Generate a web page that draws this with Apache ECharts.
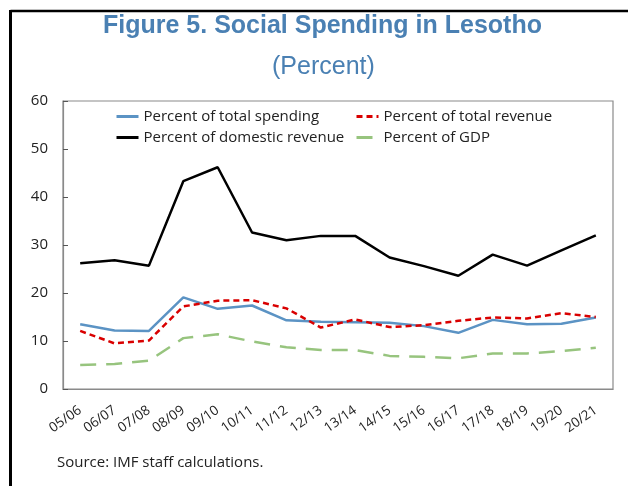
<!DOCTYPE html>
<html>
<head>
<meta charset="utf-8">
<script src="https://cdn.jsdelivr.net/npm/echarts@6/dist/echarts.min.js"></script>
<style>
html,body{margin:0;padding:0;background:#fff;}
#chart{width:628px;height:486px;}
</style>
</head>
<body>
<div id="chart"></div>
<script>
var categories = ['05/06','06/07','07/08','08/09','09/10','10/11','11/12','12/13','13/14','14/15','15/16','16/17','17/18','18/19','19/20','20/21'];
var totalSpending = [13.5,12.2,12.1,19.1,16.7,17.4,14.3,14.0,13.9,13.8,13.1,11.7,14.4,13.5,13.6,14.9];
var totalRevenue = [12.1,9.5,10.1,17.2,18.4,18.5,16.8,12.8,14.5,12.9,13.3,14.2,14.9,14.7,15.8,15.0];
var domesticRevenue = [26.2,26.8,25.7,43.3,46.2,32.6,31.0,31.9,31.9,27.4,25.6,23.6,28.0,25.7,28.9,32.0];
var percentGDP = [5.0,5.2,5.9,10.6,11.4,9.9,8.7,8.1,8.1,6.9,6.7,6.4,7.4,7.4,7.9,8.6];
var yTicks = [0,10,20,30,40,50,60];

var chart = echarts.init(document.getElementById('chart'), null, {renderer:'canvas'});
var txt = '#222222';
var font = 'Open Sans';
var legendCommon = {orient:'vertical', top:109, padding:0, itemWidth:22, itemHeight:14, itemGap:6,
  itemStyle:{opacity:0}, lineStyle:{width:3},
  textStyle:{fontFamily:font, fontSize:15, color:txt}};
chart.setOption({
  animation:false,
  backgroundColor:'#ffffff',
  title:[
    {text:'Figure 5. Social Spending in Lesotho', left:103, top:14, padding:0,
     textStyle:{fontFamily:'Liberation Sans', fontWeight:'bold', fontSize:25, color:'#4A80B3'}},
    {text:'(Percent)', left:272, top:55, padding:0,
     textStyle:{fontFamily:'Liberation Sans', fontWeight:'normal', fontSize:25, color:'#4A80B3'}},
    {text:'Source: IMF staff calculations.', left:57, top:455, padding:0,
     textStyle:{fontFamily:font, fontWeight:'normal', fontSize:15, color:txt}}
  ],
  graphic:[
    {type:'line', shape:{x1:10.5,y1:11,x2:628,y2:11}, style:{stroke:'#000',lineWidth:2.5}},
    {type:'line', shape:{x1:10.5,y1:10,x2:10.5,y2:486}, style:{stroke:'#000',lineWidth:3}}
  ],
  legend:[
    Object.assign({data:['Percent of total spending','Percent of domestic revenue'], left:115}, legendCommon),
    Object.assign({data:['Percent of total revenue','Percent of GDP'], left:355}, legendCommon)
  ],
  grid:{left:63, top:101, right:15, bottom:97, show:true, borderColor:'#8a8a8a', borderWidth:1.2},
  xAxis:{type:'category', data:categories, boundaryGap:true,
    axisLine:{lineStyle:{color:'#8a8a8a', width:1.2}},
    axisTick:{inside:true, length:5, lineStyle:{color:'#555'}},
    axisLabel:{rotate:35, margin:20, fontFamily:font, fontSize:13.5, color:txt}},
  yAxis:{type:'value', min:yTicks[0], max:yTicks[yTicks.length-1], interval:10,
    axisLine:{show:true, lineStyle:{color:'#8a8a8a', width:1.2}},
    axisTick:{show:true, inside:true, length:5, lineStyle:{color:'#555'}},
    splitLine:{show:false},
    axisLabel:{margin:15, fontFamily:font, fontSize:15, color:txt}},
  series:[
    {name:'Percent of total spending', type:'line', data:totalSpending, symbol:'none',
     lineStyle:{color:'#5B93C4', width:2.5}, itemStyle:{color:'#5B93C4'}, z:3},
    {name:'Percent of total revenue', type:'line', data:totalRevenue, symbol:'none',
     lineStyle:{color:'#D90000', width:2.5, type:[6,4]}, itemStyle:{color:'#D90000'}, z:4},
    {name:'Percent of domestic revenue', type:'line', data:domesticRevenue, symbol:'none',
     lineStyle:{color:'#000000', width:2.5}, itemStyle:{color:'#000000'}, z:3},
    {name:'Percent of GDP', type:'line', data:percentGDP, symbol:'none',
     lineStyle:{color:'#97C47E', width:2.5, type:[16,10]}, itemStyle:{color:'#97C47E'}, z:3}
  ]
});
</script>
</body>
</html>
